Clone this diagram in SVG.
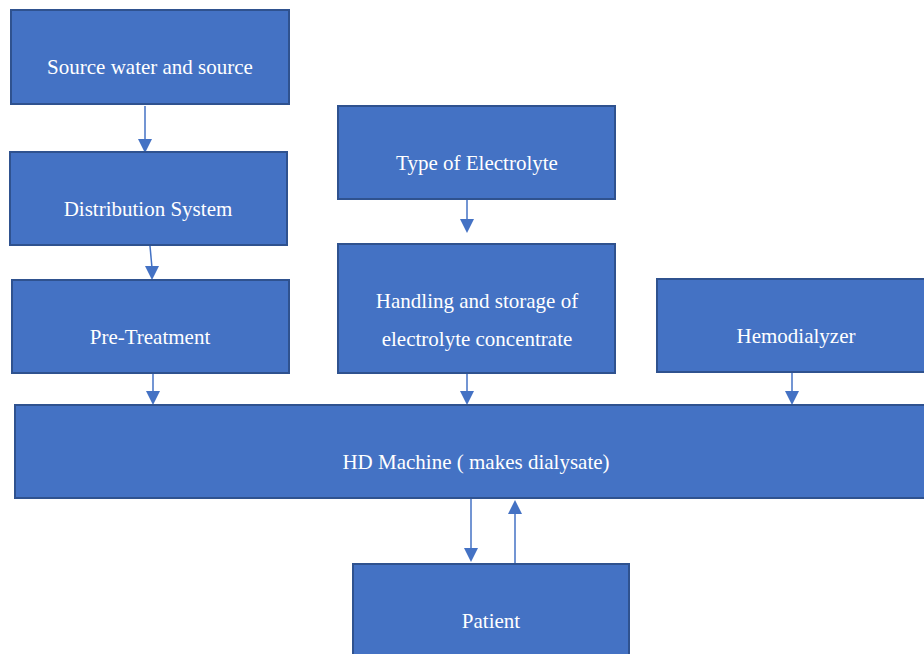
<svg xmlns="http://www.w3.org/2000/svg" width="924" height="654" viewBox="0 0 924 654">
  <style>
    .box { fill: #4472C4; stroke: #2F528F; stroke-width: 2; }
    .label { font-family: "Liberation Serif", "Times New Roman", serif; font-size: 21px; fill: #FFFFFF; text-anchor: middle; }
    .conn { stroke: #4472C4; stroke-width: 1.5; fill: none; }
    .head { fill: #4472C4; }
  </style>
  <rect width="924" height="654" fill="#FFFFFF"/>

  <g id="connectors">
    <line class="conn" x1="145" y1="106" x2="145" y2="141"/>
    <path class="head" d="M138,139 L152,139 L145,153 z"/>
    <line class="conn" x1="150" y1="246" x2="152" y2="268"/>
    <path class="head" d="M145,266 L159,266 L152,280 z"/>
    <line class="conn" x1="153" y1="374" x2="153" y2="393"/>
    <path class="head" d="M146,391 L160,391 L153,405 z"/>
    <line class="conn" x1="467" y1="200" x2="467" y2="221"/>
    <path class="head" d="M460,219 L474,219 L467,233 z"/>
    <line class="conn" x1="467" y1="374" x2="467" y2="393"/>
    <path class="head" d="M460,391 L474,391 L467,405 z"/>
    <line class="conn" x1="792" y1="373" x2="792" y2="393"/>
    <path class="head" d="M785,391 L799,391 L792,405 z"/>
    <line class="conn" x1="471" y1="499" x2="471" y2="550"/>
    <path class="head" d="M464,548 L478,548 L471,562 z"/>
    <line class="conn" x1="515" y1="563" x2="515" y2="512"/>
    <path class="head" d="M508,514 L522,514 L515,500 z"/>
  </g>

  <g id="source">
    <rect class="box" x="11" y="10" width="278" height="94"/>
    <text class="label" x="150" y="74">Source water and source</text>
  </g>
  <g id="distribution">
    <rect class="box" x="10" y="152" width="277" height="93"/>
    <text class="label" x="148" y="216">Distribution System</text>
  </g>
  <g id="pretreatment">
    <rect class="box" x="12" y="280" width="277" height="93"/>
    <text class="label" x="150" y="344">Pre-Treatment</text>
  </g>
  <g id="electrolyte-type">
    <rect class="box" x="338" y="106" width="277" height="93"/>
    <text class="label" x="477" y="170">Type of Electrolyte</text>
  </g>
  <g id="electrolyte-handling">
    <rect class="box" x="338" y="244" width="277" height="129"/>
    <text class="label" x="477" y="308">Handling and storage of</text>
    <text class="label" x="477" y="346">electrolyte concentrate</text>
  </g>
  <g id="hemodialyzer">
    <rect class="box" x="657" y="279" width="280" height="93"/>
    <text class="label" x="796" y="343">Hemodialyzer</text>
  </g>
  <g id="hd-machine">
    <rect class="box" x="15" y="405" width="922" height="93"/>
    <text class="label" x="476" y="469">HD Machine ( makes dialysate)</text>
  </g>
  <g id="patient">
    <rect class="box" x="353" y="564" width="276" height="100"/>
    <text class="label" x="491" y="628">Patient</text>
  </g>
</svg>
